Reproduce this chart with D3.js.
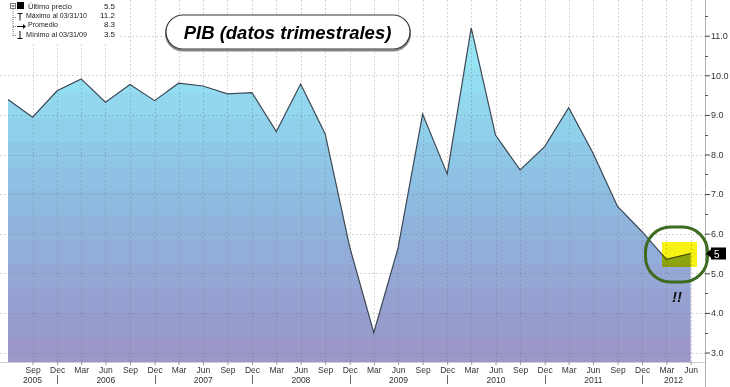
<!DOCTYPE html>
<html><head><meta charset="utf-8">
<script src="https://cdn.jsdelivr.net/npm/d3@7"></script>
<style>
html,body{margin:0;padding:0;background:#fff;}
svg{display:block;}
</style></head>
<body>
<svg id="chart" width="730" height="387"></svg>
<script>
// ---- data ----
const quarters = ["2005-06-30","2005-09-30","2005-12-31","2006-03-31","2006-06-30","2006-09-30","2006-12-31",
  "2007-03-31","2007-06-30","2007-09-30","2007-12-31","2008-03-31","2008-06-30","2008-09-30","2008-12-31",
  "2009-03-31","2009-06-30","2009-09-30","2009-12-31","2010-03-31","2010-06-30","2010-09-30","2010-12-31",
  "2011-03-31","2011-06-30","2011-09-30","2011-12-31","2012-03-31","2012-06-30"];
const pib = [9.39,8.94,9.61,9.91,9.32,9.77,9.36,9.80,9.73,9.53,9.56,8.58,9.78,8.52,5.66,
  3.5,5.64,9.02,7.51,11.2,8.49,7.61,8.2,9.18,8.04,6.69,6.05,5.35,5.5];
const yTicks = [3,4,5,6,7,8,9,10,11];
const years = [2005,2006,2007,2008,2009,2010,2011,2012];
const legendLabels = ["Último precio","Máximo al 03/31/10","Promedio","Mínimo al 03/31/09"];
const legendValues = ["5.5","11.2","8.3","3.5"];
const titleText = "PIB (datos trimestrales)";
const lastLabel = "5";

// ---- setup ----
const parse = d3.timeParse("%Y-%m-%d");
const data = quarters.map((q,i)=>({date:parse(q), v:pib[i]}));
const svg = d3.select("#chart");
const W = 730, H = 387;
const plotRight = 705, plotBottom = 362;

const x = d3.scaleTime().domain([data[0].date, data[data.length-1].date]).range([8, 690.7]);
const y = d3.scaleLinear().domain([3, 11]).range([352.5, 35.7]);

// gradient (banded)
const defs = svg.append("defs");
const grad = defs.append("linearGradient").attr("id","fillGrad")
  .attr("gradientUnits","userSpaceOnUse").attr("x1",0).attr("x2",0).attr("y1",20).attr("y2",plotBottom);
const bandColors = ["#9ae8f7","#97e4f5","#94def2","#92d7ee","#90d0eb","#8fc8e7","#8ec1e3","#8fbadf",
  "#90b3dc","#92add9","#94a7d5","#96a1d1","#989ccd","#9b97c9"];
bandColors.forEach((c,i)=>{
  grad.append("stop").attr("offset", i/bandColors.length).attr("stop-color", c);
  grad.append("stop").attr("offset", (i+1)/bandColors.length).attr("stop-color", c);
});

// area
const area = d3.area().x(d=>x(d.date)).y0(plotBottom).y1(d=>y(d.v));
svg.append("path").datum(data).attr("d", area).attr("fill","url(#fillGrad)");

// grid
const grid = svg.append("g").attr("stroke","#707070").attr("stroke-opacity",0.3)
  .attr("stroke-dasharray","2,2").attr("stroke-width",1);
yTicks.forEach(t=>{
  grid.append("line").attr("x1",0).attr("x2",plotRight).attr("y1",Math.round(y(t))+0.5).attr("y2",Math.round(y(t))+0.5);
});
data.slice(1).forEach(d=>{
  const xx = Math.round(x(d.date))+0.5;
  grid.append("line").attr("x1",xx).attr("x2",xx).attr("y1",0).attr("y2",plotBottom);
});

// line
const line = d3.line().x(d=>x(d.date)).y(d=>y(d.v));
svg.append("path").datum(data).attr("d", line).attr("fill","none")
  .attr("stroke","#3b4754").attr("stroke-width",1.2).attr("stroke-linejoin","miter");

// frame bottom
svg.append("line").attr("x1",0).attr("x2",plotRight).attr("y1",plotBottom+0.5).attr("y2",plotBottom+0.5)
  .attr("stroke","#cfcfcf");
// right axis line
svg.append("line").attr("x1",plotRight+0.5).attr("x2",plotRight+0.5).attr("y1",0).attr("y2",H)
  .attr("stroke","#b0b0b0");

// right axis ticks
const yAxisG = svg.append("g").attr("transform",`translate(${plotRight},0)`);
const yAxis = d3.axisRight(y).tickValues(yTicks).tickSize(5).tickFormat(d3.format(".1f"));
yAxisG.call(yAxis);
yAxisG.select(".domain").remove();
yAxisG.selectAll(".tick line").attr("stroke","#444");
yAxisG.selectAll(".tick text").attr("x",6).attr("fill","#333")
  .style("font-family","'Liberation Sans', Arial, sans-serif").style("font-size","9px");
// minor ticks
const minor = d3.range(3.5, 11.6, 1);
yAxisG.selectAll(".minor").data(minor).enter().append("line")
  .attr("x1",0).attr("x2",3).attr("y1",d=>Math.round(y(d))+0.5).attr("y2",d=>Math.round(y(d))+0.5)
  .attr("stroke","#555");

// x axis
const xAxisG = svg.append("g").attr("transform",`translate(0,${plotBottom})`);
const xAxis = d3.axisBottom(x).tickValues(data.slice(1).map(d=>d.date)).tickSize(3)
  .tickFormat(d3.timeFormat("%b")).tickPadding(2);
xAxisG.call(xAxis);
xAxisG.select(".domain").remove();
xAxisG.selectAll(".tick line").attr("stroke","#999");
xAxisG.selectAll(".tick text").attr("fill","#333")
  .style("font-family","'Liberation Sans Narrow','Liberation Sans',Arial,sans-serif").style("font-size","8.5px");

// year labels and separators
const yearG = svg.append("g").style("font-family","'Liberation Sans Narrow','Liberation Sans',Arial,sans-serif")
  .style("font-size","8.5px").attr("fill","#333");
years.forEach(yr=>{
  const a = Math.max(8, x(new Date(yr-1,11,31)));
  const b = Math.min(plotRight, x(new Date(yr,11,31)));
  yearG.append("text").attr("x",(a+b)/2).attr("y",383).attr("text-anchor","middle").text(yr);
  const sx = x(new Date(yr,11,31));
  if (sx < plotRight) {
    yearG.append("line").attr("x1",Math.round(sx)+0.5).attr("x2",Math.round(sx)+0.5)
      .attr("y1",375).attr("y2",384).attr("stroke","#666");
  }
});

// legend
const lg = svg.append("g").style("font-family","'Liberation Sans Narrow','Liberation Sans',Arial,sans-serif")
  .style("font-size","8px").attr("fill","#222");
lg.append("rect").attr("x",0).attr("y",0).attr("width",118).attr("height",44).attr("fill","#fff");
// tree
lg.append("rect").attr("x",10.5).attr("y",3.5).attr("width",5).attr("height",5).attr("fill","#fff").attr("stroke","#777");
lg.append("line").attr("x1",11.5).attr("x2",14.5).attr("y1",6).attr("y2",6).attr("stroke","#333");
lg.append("line").attr("x1",13).attr("x2",13).attr("y1",9).attr("y2",36).attr("stroke","#777").attr("stroke-dasharray","1,1");
[17,26,35].forEach(yy=>lg.append("line").attr("x1",13).attr("x2",17).attr("y1",yy+0.5).attr("y2",yy+0.5)
  .attr("stroke","#777").attr("stroke-dasharray","1,1"));
lg.append("rect").attr("x",17).attr("y",2).attr("width",7).attr("height",7).attr("fill","#000");
// max symbol
lg.append("path").attr("d","M17.5,13.5 h5 M20,13.5 v7").attr("stroke","#111").attr("fill","none");
// avg symbol
lg.append("path").attr("d","M17,26.5 h6").attr("stroke","#111");
lg.append("path").attr("d","M23,24 l3,2.5 l-3,2.5 z").attr("fill","#111");
// min symbol
lg.append("path").attr("d","M20,31 v7 M17.5,38.5 h5").attr("stroke","#111").attr("fill","none");
const ly = [9, 18, 27, 36.5];
const lx = [28, 26, 28, 26];
const lw = [44, 61, 30, 61];
legendLabels.forEach((t,i)=>{
  lg.append("text").attr("x",lx[i]).attr("y",ly[i]).text(t)
    .attr("textLength",lw[i]).attr("lengthAdjust","spacingAndGlyphs");
  lg.append("text").attr("x",115).attr("y",ly[i]).attr("text-anchor","end").text(legendValues[i]);
});

// title pill
const tg = svg.append("g");
tg.append("rect").attr("x",166).attr("y",16.5).attr("width",244).attr("height",34).attr("rx",17)
  .attr("fill","none").attr("stroke","#888").attr("stroke-width",2.2);
tg.append("rect").attr("x",166).attr("y",15).attr("width",244).attr("height",34).attr("rx",17)
  .attr("fill","#fff").attr("stroke","#333").attr("stroke-width",1.1);
tg.append("text").attr("x",287.5).attr("y",39).attr("text-anchor","middle").text(titleText)
  .style("font-family","'Liberation Sans',Arial,sans-serif").style("font-size","18.5px")
  .style("font-weight","bold").style("font-style","italic").attr("fill","#000");

// yellow highlight
svg.append("rect").attr("x",662).attr("y",242).attr("width",35).attr("height",25)
  .attr("fill","#f7f214").style("mix-blend-mode","multiply");
// green ring
svg.append("rect").attr("x",645.5).attr("y",227).attr("width",62).attr("height",55).attr("rx",25)
  .attr("fill","none").attr("stroke","#3d6b1f").attr("stroke-width",3);
// !!
svg.append("text").attr("x",677).attr("y",302).attr("text-anchor","middle").text("!!")
  .style("font-family","'Liberation Sans',Arial,sans-serif").style("font-size","15px")
  .style("font-weight","bold").style("font-style","italic").attr("fill","#111");

// last price marker
const ly5 = y(pib[pib.length-1]);
svg.append("path").attr("d",`M706,${ly5} l6,-5 v10 z`).attr("fill","#000");
svg.append("rect").attr("x",711).attr("y",ly5-6).attr("width",15).attr("height",12).attr("fill","#000");
svg.append("text").attr("x",714).attr("y",ly5+4).text(lastLabel).attr("fill","#fff")
  .style("font-family","'Liberation Sans',Arial,sans-serif").style("font-size","10px");
</script>
</body></html>
